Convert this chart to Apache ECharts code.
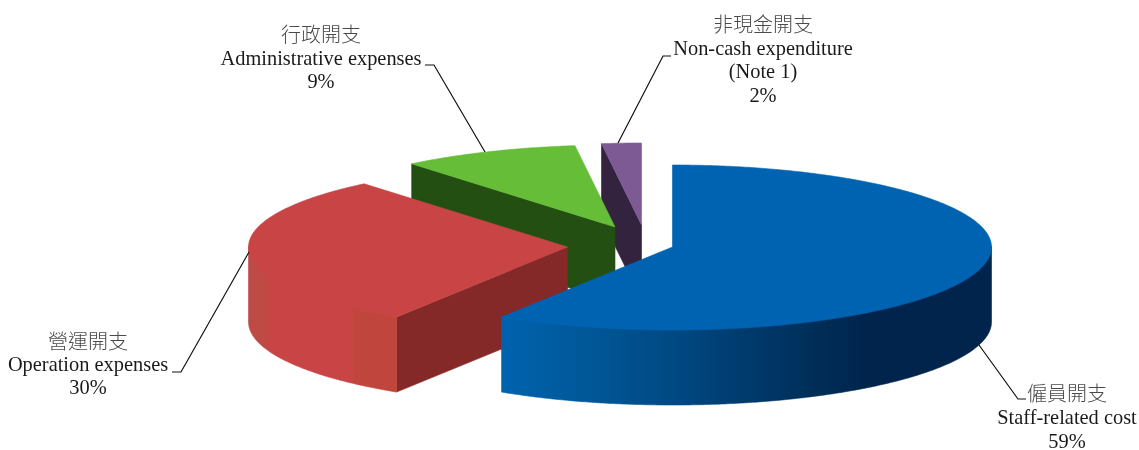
<!DOCTYPE html>
<html>
<head>
<meta charset="utf-8">
<title>Expense breakdown</title>
<script src="https://cdn.jsdelivr.net/npm/echarts@6/dist/echarts.min.js"></script>
<style>
html, body { margin: 0; padding: 0; background: #fff; }
#chart { width: 1139px; height: 450px; }
</style>
</head>
<body>
<div id="chart"></div>
<script>
// Expense shares, in pie order (clockwise from twelve o'clock)
const namesZh = ['僱員開支', '營運開支', '行政開支', '非現金開支'];
const namesEn = ['Staff-related cost', 'Operation expenses', 'Administrative expenses', 'Non-cash expenditure'];
const notes = ['', '', '', '(Note 1)'];
const shares = [59, 30, 9, 2];

// Pie geometry: a tilted ellipse with a fixed wall height
const RX = 319, RY_BACK = 82, RY_FRONT = 83, WALL = 75;

// Where each exploded wedge has its tip
const tips = [[672.5, 247], [567.5, 247], [615, 227], [641.5, 225]];

const sliceStyles = [
  {
    top: '#0063b1', cut: '#003a70',
    wall: [[0, '#0063ae'], [0.078, '#005ea4'], [0.186, '#005797'], [0.262, '#00508d'], [0.33, '#004b85'],
           [0.40, '#00447c'], [0.453, '#003f74'], [0.523, '#00386a'], [0.625, '#002f5a'], [0.748, '#00244c'], [1, '#00244c']]
  },
  {
    top: '#c94545', cut: '#852828',
    wall: [[0, '#bd4b45'], [0.13, '#bf4a44'], [0.14, '#c94545'], [0.7, '#c94545'], [0.71, '#c0463e'], [1, '#c0463c']]
  },
  { top: '#66be38', cut: '#244f13', wall: [[0, '#244f13'], [1, '#244f13']] },
  { top: '#7e5a95', cut: '#33233e', wall: [[0, '#33233e'], [1, '#33233e']] }
];

// Label blocks and their leader lines
const labelBlocks = [
  { x: 1067, ys: [393, 419, 443], line: [[979, 345], [1018, 399], [1026, 399]] },
  { x: 88, ys: [341, 366, 389], line: [[249, 252], [181, 372], [172, 372]] },
  { x: 321, ys: [34, 60, 83], line: [[485, 152], [434, 65], [425, 65]] },
  { x: 763, ys: [24, 50, 73, 97], line: [[618, 143], [663, 56], [671, 56]] }
];

const total = shares.reduce((a, b) => a + b, 0);
const startAngles = [];
shares.reduce((sum, v, i) => { startAngles[i] = sum / total * 2 * Math.PI; return sum + v; }, 0);

function rim(tip, angle, drop) {
  const c = Math.cos(angle);
  return [tip[0] + Math.sin(angle) * RX, tip[1] - c * (c > 0 ? RY_BACK : RY_FRONT) + drop];
}

function arc(tip, from, to, drop) {
  const n = Math.max(2, Math.ceil(Math.abs(to - from) / 0.01));
  const pts = [];
  for (let k = 0; k <= n; k++) pts.push(rim(tip, from + (to - from) * k / n, drop));
  return pts;
}

function gradient(stops) {
  return {
    type: 'linear', x: 0, y: 0, x2: 1, y2: 0,
    colorStops: stops.map(s => ({ offset: s[0], color: s[1] }))
  };
}

// A thin stroke in the fill colour closes the hairline seams between adjoining faces
function poly(points, fill, z2) {
  return { type: 'polygon', shape: { points }, style: { fill, stroke: fill, lineWidth: 0.6 }, z2, silent: true };
}

function renderSlice(params, api) {
  const i = api.value(0);
  const tip = tips[i];
  const a0 = startAngles[i];
  const a1 = a0 + api.value(1) / total * 2 * Math.PI;
  const st = sliceStyles[i];
  // Nearer wedges are painted over the ones behind them
  const layer = i === 0 ? 40 : (3 - i) * 10;
  const children = [];
  const tipLow = [tip[0], tip[1] + WALL];

  // Flat cut face along the wedge's first edge (the large wedge hides its own)
  if (i > 0) {
    children.push(poly([rim(tip, a0, 0), tip, tipLow, rim(tip, a0, WALL)], st.cut, layer));
  }

  // Curved outer wall, visible on the front half of the ellipse
  const w0 = Math.max(a0, Math.PI / 2);
  const w1 = Math.min(a1, Math.PI * 1.5);
  if (w1 > w0) {
    const upper = arc(tip, w0, w1, -1);
    const lower = arc(tip, w0, w1, WALL).reverse();
    children.push(poly(upper.concat(lower), gradient(st.wall), layer + 1));
  }

  // Top surface
  children.push(poly([tip].concat(arc(tip, a0, a1, 0)), st.top, layer + 2));

  // Leader line and label text
  const block = labelBlocks[i];
  children.push({
    type: 'polyline', shape: { points: block.line }, silent: true, z2: 60,
    style: { stroke: '#111', lineWidth: 1.2, fill: null }
  });
  const lines = [namesZh[i], namesEn[i]];
  if (notes[i]) lines.push(notes[i]);
  lines.push(api.value(1) + '%');
  lines.forEach((text, k) => {
    children.push({
      type: 'text', silent: true, z2: 61,
      style: {
        text, x: block.x, y: block.ys[k], align: 'center', verticalAlign: 'middle',
        fontFamily: k === 0 ? '"Noto Sans CJK TC"' : '"Liberation Serif"',
        fontSize: k === 0 ? 20 : 20.4,
        fontWeight: k === 0 ? 300 : 400,
        fill: k === 0 ? '#4a4a4a' : '#1a1a1a'
      }
    });
  });
  return { type: 'group', children };
}

const chart = echarts.init(document.getElementById('chart'), null, { renderer: 'canvas' });
chart.setOption({
  backgroundColor: '#ffffff',
  animation: false,
  series: [{
    type: 'custom',
    coordinateSystem: 'none',
    renderItem: renderSlice,
    encode: { value: [1] },
    data: shares.map((v, i) => [i, v])
  }]
});
</script>
</body>
</html>
